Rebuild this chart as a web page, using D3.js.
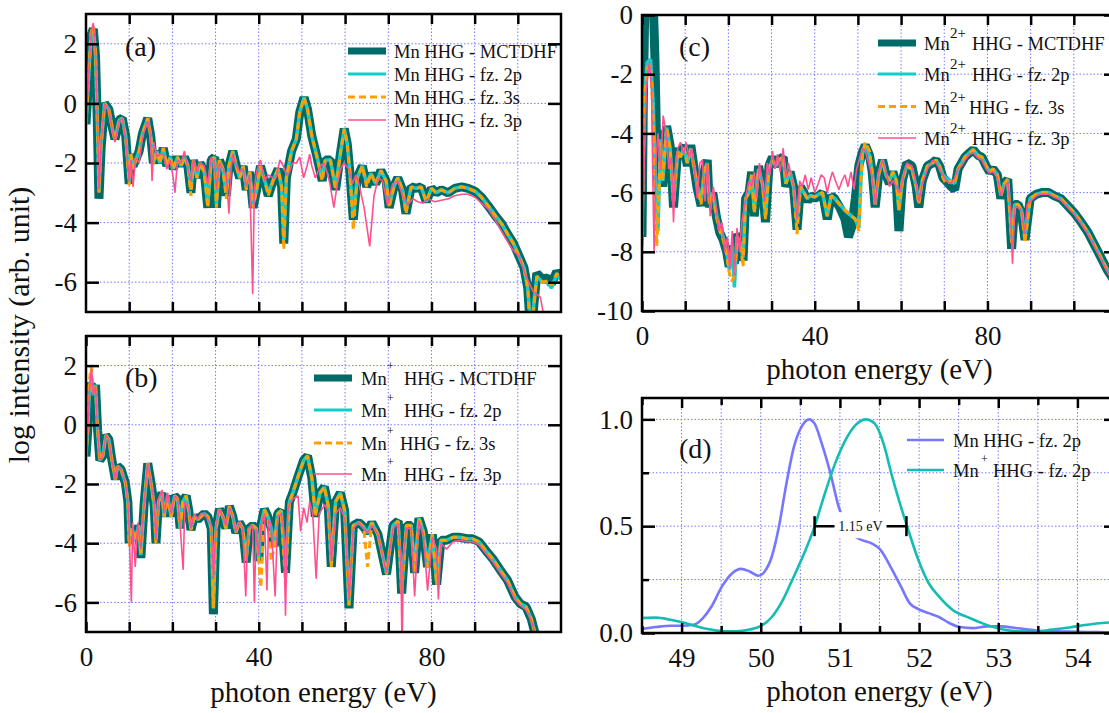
<!DOCTYPE html>
<html>
<head>
<meta charset="utf-8">
<script src="https://cdn.jsdelivr.net/npm/d3@7"></script>
<style>
  body { margin: 0; background: #fff; }
  svg { display: block; }
</style>
</head>
<body>
<div id="chart"></div>
<script>
// ---------- panel (a): Mn ----------
const energyA = [
  0, 0.6, 1.2, 1.7, 2.2, 2.6, 3.0, 3.5, 4.3, 5.3,
  6.1, 6.7, 7.7, 8.4, 9.2, 10.0, 10.4, 10.9, 11.5, 12.3,
  13.1, 14.3, 15.0, 15.6, 16.4, 17.1, 17.9, 18.7, 19.5, 20.2,
  21.2, 22.0, 22.8, 23.6, 24.3, 24.9, 25.7, 26.4, 27.4, 28.2,
  29.0, 29.8, 30.2, 30.9, 31.7, 32.5, 33.1, 34.0, 34.8, 35.6,
  36.4, 37.1, 37.9, 38.7, 39.5, 40.4, 41.4, 42.2, 43.3, 44.5,
  45.3, 45.8, 46.4, 47.6, 48.7, 49.5, 50.5, 51.3, 52.3, 53.5,
  54.7, 55.4, 56.6, 57.8, 59.0, 59.8, 60.5, 61.1, 61.9, 62.8,
  64.0, 65.0, 66.0, 67.1, 68.3, 69.5, 70.2, 71.4, 72.2, 73.3,
  74.1, 75.3, 76.5, 77.6, 78.8, 80.0, 81.1, 82.3, 83.9, 85.4,
  87.0, 88.5, 90.1, 91.6, 93.2, 94.7, 96.3, 97.9, 99.0, 100.2,
  101.4, 102.3, 102.8, 103.5, 104.4, 105.7, 106.9, 107.8, 109.0, 110.0
];
const mctdhfA = [
  -0.7, 0.8, 2.3, 2.5, 1.6, -0.5, -3.2, -1.5, 0.0, -0.2,
  -0.8, -1.2, -0.55, -0.5, -1.1, -2.7, -1.7, -2.1, -1.9, -1.6,
  -1.0, -0.5, -1.1, -2.0, -1.6, -2.0, -1.5, -2.1, -1.8, -2.2,
  -1.8, -2.1, -1.8, -2.1, -3.0, -1.9, -2.5, -2.0, -2.3, -3.5,
  -1.9, -1.8, -3.5, -1.9, -2.2, -3.1, -2.1, -1.6, -2.1, -2.5,
  -2.1, -2.9, -2.3, -3.5, -2.9, -2.1, -2.6, -3.1, -2.6, -2.2,
  -2.8, -4.7, -2.5, -1.6, -1.2, -0.3, 0.2, -0.2, -1.1, -1.8,
  -2.6, -1.9, -1.9, -2.9, -1.6, -0.85, -1.35, -2.3, -3.9, -2.5,
  -2.1, -2.8, -2.35, -2.7, -2.25, -2.6, -3.5, -2.75, -2.5, -2.9,
  -3.7, -2.8, -2.85, -2.8, -3.3, -2.85, -3.0, -2.9, -3.0, -2.85,
  -2.8, -2.85, -2.95, -3.15, -3.45, -3.75, -4.05, -4.45, -4.7, -5.1,
  -5.5, -6.2, -7.3, -7.1, -5.7, -5.9, -5.85, -6.05, -5.65, -5.8
];
const fz2pA = [
  -0.7, 0.9, 2.35, 2.55, 1.65, -0.4, -2.95, -1.4, 0.0, -0.2,
  -0.85, -1.2, -0.55, -0.5, -1.1, -2.6, -1.7, -2.2, -1.9, -1.6,
  -1.0, -0.5, -1.1, -2.0, -1.6, -2.0, -1.5, -2.1, -1.8, -2.2,
  -1.8, -2.1, -1.8, -2.1, -2.9, -1.9, -2.5, -2.0, -2.3, -3.4,
  -1.9, -1.8, -3.4, -1.9, -2.2, -3.0, -2.1, -1.6, -2.1, -2.5,
  -2.1, -2.8, -2.3, -3.4, -2.9, -2.1, -2.6, -3.0, -2.6, -2.2,
  -2.8, -4.6, -2.5, -1.6, -1.2, -0.3, 0.2, -0.2, -1.1, -1.8,
  -2.5, -1.9, -1.9, -2.8, -1.6, -0.85, -1.35, -2.3, -3.8, -2.5,
  -2.1, -2.7, -2.35, -2.7, -2.25, -2.6, -3.4, -2.75, -2.5, -2.9,
  -3.6, -2.8, -2.85, -2.8, -3.3, -2.85, -3.0, -2.9, -3.0, -2.85,
  -2.8, -2.85, -2.95, -3.15, -3.45, -3.75, -4.05, -4.45, -4.7, -5.1,
  -5.5, -6.2, -7.2, -7.0, -5.8, -6.0, -6.0, -6.2, -5.75, -5.9
];
const fz3sA = [
  -0.7, 0.9, 2.4, 2.6, 1.7, -0.4, -3.0, -1.4, 0.0, -0.2,
  -0.85, -1.25, -0.55, -0.5, -1.15, -2.75, -1.7, -2.2, -1.9, -1.6,
  -1.0, -0.5, -1.1, -2.05, -1.6, -2.0, -1.5, -2.1, -1.8, -2.2,
  -1.8, -2.1, -1.8, -2.1, -3.1, -1.9, -2.5, -2.0, -2.3, -3.5,
  -1.9, -1.8, -3.5, -1.9, -2.2, -3.2, -2.1, -1.6, -2.1, -2.5,
  -2.1, -2.9, -2.3, -3.5, -2.9, -2.1, -2.6, -3.1, -2.6, -2.2,
  -2.8, -4.9, -2.5, -1.6, -1.2, -0.3, 0.2, -0.2, -1.1, -1.8,
  -2.6, -1.9, -1.9, -2.9, -1.6, -0.85, -1.35, -2.3, -4.25, -2.5,
  -2.1, -2.8, -2.35, -2.7, -2.25, -2.6, -3.5, -2.75, -2.5, -2.9,
  -3.7, -2.8, -2.85, -2.8, -3.3, -2.85, -3.0, -2.9, -3.0, -2.85,
  -2.8, -2.85, -2.95, -3.15, -3.45, -3.75, -4.05, -4.45, -4.7, -5.1,
  -5.5, -6.2, -7.4, -7.2, -5.8, -6.0, -5.95, -6.1, -5.7, -5.85
];
const fz3pA = [
  [0, -0.7], [0.6, 0.9], [1.2, 2.4], [1.7, 2.7], [2.2, 1.7], [2.6, -0.3], [3.0, -2.9], [3.5, -1.3],
  [4.3, 0.0], [5.3, -0.2], [6.1, -0.9], [6.7, -1.3], [7.7, -0.6], [8.4, -0.5], [9.2, -1.2],
  [10.0, -2.6], [10.4, -1.9], [10.9, -2.8], [11.5, -1.8], [12.3, -2.0], [13.1, -1.1], [14.3, -0.6],
  [14.9, -1.0], [15.3, -2.6], [15.7, -1.3], [16.4, -1.8], [17.1, -1.7], [17.9, -1.7], [18.7, -2.2],
  [19.5, -1.9], [20.2, -2.5], [20.6, -3.0], [21.2, -1.9], [22.0, -2.0], [22.8, -1.6], [23.6, -2.2],
  [24.3, -2.6], [24.9, -1.9], [25.7, -2.3], [26.4, -2.0], [27.4, -2.1], [28.2, -2.7], [29.0, -1.8],
  [29.8, -2.0], [30.2, -2.9], [30.9, -2.0], [31.7, -2.2], [32.5, -2.4], [33.1, -3.7], [33.6, -2.2],
  [34.0, -1.7], [34.8, -2.1], [35.6, -2.3], [36.4, -2.2], [37.1, -2.8], [37.9, -2.4], [38.6, -6.4],
  [39.0, -2.8], [39.5, -2.3], [40.4, -1.9], [41.4, -2.6], [42.2, -2.4], [43.3, -2.5], [44.0, -2.5],
  [44.9, -1.9], [45.7, -2.1], [46.4, -2.4], [47.0, -2.35], [47.8, -2.0], [48.7, -2.0], [49.5, -1.8],
  [50.4, -2.5], [51.2, -2.1], [51.8, -1.7], [52.3, -2.1], [53.1, -2.5], [54.3, -2.1], [55.1, -2.0],
  [55.8, -2.3], [56.5, -2.7], [57.4, -3.5], [58.2, -2.7], [59.0, -2.2], [59.7, -2.0], [60.9, -2.2],
  [61.7, -2.7], [62.5, -2.4], [63.2, -2.7], [64.4, -3.5], [65.7, -4.8], [66.7, -3.1], [67.7, -2.5],
  [68.7, -2.6], [69.8, -3.4], [71.0, -2.7], [72.2, -2.6], [73.3, -3.1], [74.5, -3.4], [75.7, -3.2],
  [76.8, -3.3], [78.0, -3.35], [79.2, -3.2], [80.7, -3.3], [82.3, -3.25], [83.9, -3.2], [85.4, -3.1],
  [87.0, -3.05], [88.5, -3.05], [90.1, -3.15], [91.6, -3.35], [93.2, -3.55], [94.7, -3.9],
  [96.3, -4.3], [97.9, -4.7], [99.0, -4.95], [100.2, -5.1], [101.9, -5.8], [103.5, -6.3],
  [105.2, -6.5], [106.0, -7.1]
];

// ---------- panel (b): Mn+ ----------
const energyB = [
  0, 0.4, 0.8, 1.2, 1.7, 2.2, 2.7, 3.2, 3.9, 4.6,
  5.3, 6.0, 6.8, 7.3, 8.1, 9.1, 9.7, 10.0, 10.7, 11.4,
  12.2, 12.7, 13.5, 14.3, 15.1, 15.8, 16.2, 16.8, 17.6, 18.1,
  18.9, 19.7, 20.5, 21.2, 21.8, 22.4, 23.2, 23.8, 24.3, 25.1,
  25.9, 26.6, 27.4, 28.2, 29.0, 29.5, 30.1, 30.9, 31.7, 32.4,
  33.2, 34.0, 34.7, 35.5, 36.3, 37.1, 37.8, 38.6, 39.4, 40.0,
  40.5, 41.3, 42.1, 42.9, 43.6, 44.4, 45.2, 46.2, 47.1, 47.9,
  49.1, 50.4, 51.3, 52.3, 53.1, 54.2, 55.2, 56.1, 56.8, 57.8,
  58.9, 59.9, 60.9, 61.9, 63.2, 64.3, 65.2, 66.2, 67.6, 69.6,
  71.1, 72.3, 73.1, 74.2, 75.3, 76.1, 77.1, 78.1, 79.1, 80.2,
  81.2, 82.2, 83.5, 85.0, 86.6, 88.2, 89.5, 91.0, 92.6, 94.3,
  95.9, 97.6, 99.3, 100.6, 101.9, 103.1, 103.9, 104.5
];
const mctdhfB = [
  -1.07, -0.2, 1.2, 1.4, 0.95, 1.35, -0.2, -1.2, -1.05, -0.35,
  -0.5, -1.2, -1.85, -1.4, -1.5, -1.95, -2.6, -4.0, -3.5, -3.9,
  -3.4, -4.5, -2.6, -1.3, -2.0, -2.75, -4.0, -2.6, -2.3, -3.1,
  -2.4, -3.1, -2.4, -2.5, -3.5, -2.6, -2.4, -2.9, -3.55, -3.1,
  -3.2, -3.1, -3.0, -3.1, -3.5, -6.4, -3.5, -2.85, -3.1, -3.5,
  -2.75, -3.1, -3.65, -3.3, -3.5, -4.65, -3.5, -3.4, -3.5, -4.6,
  -3.4, -2.85, -3.1, -3.5, -4.1, -3.0, -2.9, -5.0, -2.6, -2.3,
  -1.75, -1.2, -1.05, -1.8, -3.1, -2.3, -2.1, -2.75, -4.8, -2.6,
  -2.3, -2.9, -6.2, -3.4, -3.3, -3.45, -3.65, -3.3, -3.7, -5.05,
  -3.4, -3.25, -5.7, -3.4, -3.4, -5.0, -3.15, -3.6, -4.8, -3.7,
  -5.4, -3.9, -3.9, -3.8, -3.8, -3.85, -3.85, -3.95, -4.25, -4.55,
  -4.9, -5.25, -5.8, -6.05, -6.15, -6.55, -7.0, -7.3
];
const fz2pB = [
  -1.07, -0.2, 1.3, 1.5, 1.0, 1.35, -0.2, -1.2, -1.05, -0.35,
  -0.5, -1.2, -1.85, -1.4, -1.5, -1.95, -2.6, -3.9, -3.5, -3.9,
  -3.4, -4.4, -2.6, -1.3, -2.0, -2.75, -3.9, -2.6, -2.3, -3.1,
  -2.4, -3.1, -2.4, -2.5, -3.5, -2.6, -2.4, -2.9, -3.5, -3.1,
  -3.2, -3.1, -3.0, -3.1, -3.5, -6.2, -3.5, -2.85, -3.1, -3.5,
  -2.75, -3.1, -3.6, -3.3, -3.5, -4.5, -3.5, -3.4, -3.5, -4.5,
  -3.4, -2.85, -3.1, -3.5, -4.0, -3.0, -2.9, -4.9, -2.6, -2.3,
  -1.75, -1.2, -1.05, -1.8, -3.0, -2.3, -2.1, -2.75, -4.7, -2.6,
  -2.3, -2.9, -6.1, -3.4, -3.3, -3.45, -3.65, -3.3, -3.7, -5.0,
  -3.4, -3.25, -5.6, -3.4, -3.4, -4.9, -3.15, -3.6, -4.7, -3.7,
  -5.3, -3.9, -3.9, -3.8, -3.8, -3.85, -3.85, -3.95, -4.25, -4.55,
  -4.9, -5.25, -5.8, -6.05, -6.15, -6.55, -7.0, -7.3
];
const fz3sB = [
  -1.07, -0.2, 1.5, 1.95, 1.1, 1.3, -0.2, -1.2, -1.05, -0.35,
  -0.5, -1.2, -1.85, -1.4, -1.5, -1.95, -2.6, -4.1, -3.5, -3.9,
  -3.4, -4.4, -2.6, -1.3, -2.0, -2.75, -4.0, -2.6, -2.3, -3.1,
  -2.4, -3.1, -2.4, -2.5, -3.5, -2.6, -2.4, -2.9, -3.55, -3.1,
  -3.2, -3.1, -3.0, -3.1, -3.5, -6.2, -3.5, -2.85, -3.1, -3.5,
  -2.75, -3.1, -3.65, -3.3, -3.5, -4.6, -3.5, -3.4, -3.5, -4.6,
  -5.5, -2.85, -3.1, -4.6, -4.1, -3.0, -2.9, -5.4, -2.6, -2.3,
  -1.75, -1.2, -1.05, -1.8, -3.1, -2.3, -2.1, -2.75, -4.8, -2.6,
  -2.3, -2.9, -6.1, -3.4, -3.3, -3.45, -4.8, -3.3, -3.7, -5.05,
  -3.4, -3.25, -5.7, -3.4, -3.4, -5.0, -3.15, -3.6, -4.8, -3.7,
  -5.4, -3.9, -3.9, -3.8, -3.8, -3.85, -3.85, -3.95, -4.25, -4.55,
  -4.9, -5.25, -5.8, -6.05, -6.15, -6.55, -7.0, -7.3
];
const fz3pB = [
  [0, -1.07], [0.4, -0.2], [0.9, 1.4], [1.3, 1.9], [1.7, 1.0], [2.2, 1.3], [2.7, -0.2], [3.2, -1.2],
  [3.9, -1.05], [4.6, -0.35], [5.3, -0.5], [6.0, -1.2], [6.8, -1.85], [7.3, -1.4], [8.1, -1.5],
  [9.1, -1.95], [9.7, -2.6], [10.0, -3.6], [10.5, -6.0], [10.8, -3.3], [11.4, -4.8], [12.0, -3.3],
  [12.7, -4.2], [13.5, -2.6], [14.3, -1.3], [15.1, -2.0], [15.8, -2.6], [16.2, -3.9], [16.8, -2.5],
  [17.6, -2.2], [18.1, -3.0], [18.9, -2.3], [19.7, -3.0], [20.5, -2.4], [21.2, -2.5], [21.8, -3.4],
  [22.5, -4.9], [22.9, -2.6], [23.8, -2.8], [24.3, -3.5], [25.1, -3.0], [25.9, -3.2], [26.6, -3.0],
  [27.4, -3.0], [28.2, -3.2], [29.0, -3.4], [29.5, -5.2], [30.1, -3.4], [30.9, -2.85], [31.7, -3.1],
  [32.4, -3.4], [33.2, -2.8], [34.0, -3.1], [34.7, -3.6], [35.5, -3.3], [36.3, -3.5], [37.0, -5.8],
  [37.5, -3.5], [38.6, -3.4], [39.0, -6.0], [39.4, -3.5], [40.0, -4.4], [40.5, -3.4], [41.3, -3.0],
  [41.9, -5.6], [42.3, -3.2], [42.9, -3.4], [43.8, -5.8], [44.4, -3.1], [45.2, -3.0], [45.8, -3.6],
  [46.2, -6.45], [46.7, -3.0], [47.1, -2.7], [47.9, -2.5], [49.1, -2.4], [49.7, -3.6], [50.4, -2.8],
  [51.2, -3.3], [51.8, -2.6], [52.5, -3.0], [53.3, -5.2], [54.0, -3.0], [55.3, -2.7], [56.3, -3.0],
  [56.8, -4.6], [57.8, -3.0], [58.9, -2.8], [60.0, -3.2], [60.9, -5.9], [61.9, -3.5], [63.2, -3.3],
  [64.3, -3.5], [65.2, -3.65], [66.2, -3.4], [67.6, -3.7], [69.6, -5.0], [71.1, -3.5], [72.3, -3.35],
  [72.9, -4.5], [73.2, -7.7], [73.5, -4.5], [74.2, -3.5], [75.3, -3.5], [76.1, -5.8], [77.1, -3.25],
  [78.1, -3.7], [79.1, -5.6], [80.2, -3.8], [81.2, -4.2], [81.6, -5.9], [82.2, -4.0], [83.5, -4.2],
  [85.0, -3.95], [86.6, -3.9], [88.2, -3.95], [89.5, -3.95], [91.0, -4.05], [92.6, -4.35],
  [94.3, -4.65], [95.9, -5.0], [97.6, -5.35], [99.3, -5.9], [100.6, -6.1], [101.9, -6.25],
  [103.1, -6.6], [103.9, -7.0], [104.5, -7.3]
];

// ---------- panel (c): Mn2+ ----------
const energyC = [
  0, 0.3, 0.7, 1.2, 2.0, 2.6, 3.0, 3.4, 3.7, 4.3,
  4.8, 5.7, 6.5, 7.3, 8.3, 8.9, 9.7, 10.5, 11.3, 11.9,
  12.7, 13.7, 14.4, 15.1, 15.6, 16.4, 17.2, 18.0, 18.8, 19.6,
  20.2, 20.8, 21.4, 22.0, 22.8, 23.4, 24.0, 24.8, 25.4, 26.0,
  27.0, 27.9, 28.6, 29.4, 30.2, 31.0, 31.7, 32.7, 33.3, 34.3,
  35.1, 35.9, 36.7, 37.5, 38.3, 39.0, 40.0, 41.0, 41.8, 42.9,
  43.8, 44.6, 45.8, 47.0, 47.8, 48.6, 49.4, 50.2, 51.0, 51.7,
  52.7, 53.3, 54.0, 54.8, 55.7, 56.5, 57.3, 58.1, 58.9, 59.5,
  60.3, 61.3, 62.5, 63.5, 64.1, 64.9, 66.1, 67.3, 68.1, 68.9,
  69.7, 70.4, 71.6, 72.4, 73.2, 74.0, 74.8, 75.9, 76.7, 77.9,
  78.7, 79.7, 80.5, 81.3, 82.3, 83.1, 83.9, 84.7, 85.6, 86.3,
  87.1, 87.9, 88.7, 89.9, 91.4, 92.6, 94.2, 95.4, 97.0, 98.6,
  100.2, 101.7, 103.3, 104.9, 106.5, 107.7, 109.0, 110.0
];
const mctdhfC = [
  -7.5, -3.0, 0.8, 1.5, 1.2, 0.5, -1.5, -4.5, -5.8, -3.9,
  -5.8, -3.75, -4.4, -6.5, -4.5, -4.7, -4.4, -5.1, -4.4, -5.0,
  -5.8, -6.45, -5.3, -4.9, -6.5, -6.0, -6.8, -7.35, -7.6, -8.0,
  -8.5, -7.8, -8.4, -7.4, -7.6, -8.3, -6.2, -6.0, -5.3, -6.8,
  -5.1, -5.8, -7.0, -5.1, -4.8, -5.1, -4.9, -4.8, -5.8, -5.3,
  -5.8, -7.25, -5.8, -6.0, -6.3, -6.1, -6.2, -6.1, -6.0, -6.9,
  -6.1, -6.2, -6.5, -6.9, -7.5, -7.15, -6.2, -5.1, -4.65, -4.4,
  -4.75, -5.3, -6.5, -5.4, -4.9, -5.4, -5.7, -5.3, -5.7, -7.3,
  -5.6, -5.0, -5.1, -5.8, -6.5, -5.6, -5.1, -5.0, -4.9, -5.1,
  -5.5, -5.6, -5.8, -5.9, -5.2, -5.0, -4.8, -4.65, -4.55, -4.75,
  -4.8, -5.1, -5.3, -5.2, -5.4, -6.2, -5.7, -5.55, -7.9, -6.4,
  -6.4, -6.7, -7.6, -6.2, -6.05, -6.0, -6.0, -6.1, -6.2, -6.45,
  -6.7, -7.0, -7.35, -7.8, -8.25, -8.6, -8.9, -9.1
];
const fz2pC = [
  -7.6, -4.5, -2.5, -1.6, -1.5, -3.0, -5.0, -6.6, -7.3, -4.2,
  -5.6, -3.8, -4.5, -6.3, -4.6, -4.8, -4.5, -5.0, -4.5, -5.0,
  -5.7, -6.3, -5.3, -5.0, -6.3, -6.0, -6.7, -7.2, -7.5, -8.0,
  -8.6, -7.8, -9.2, -7.5, -7.7, -8.2, -6.2, -6.0, -5.4, -6.6,
  -5.2, -5.7, -6.8, -5.2, -4.9, -5.1, -4.9, -4.8, -5.7, -5.3,
  -5.8, -7.0, -5.8, -6.0, -6.2, -6.1, -6.15, -6.05, -6.0, -6.8,
  -6.1, -6.2, -6.4, -6.6, -6.7, -6.8, -6.9, -7.2, -4.7, -4.4,
  -4.75, -5.3, -6.4, -5.4, -4.9, -5.4, -5.6, -5.3, -5.6, -6.6,
  -5.6, -5.1, -5.2, -5.8, -6.3, -5.6, -5.1, -5.0, -4.9, -5.1,
  -5.4, -5.5, -5.6, -5.7, -5.2, -5.0, -4.8, -4.65, -4.55, -4.75,
  -4.8, -5.1, -5.3, -5.2, -5.4, -6.1, -5.7, -5.55, -7.6, -6.4,
  -6.4, -6.6, -7.5, -6.2, -6.05, -6.0, -6.0, -6.1, -6.2, -6.45,
  -6.7, -7.0, -7.35, -7.8, -8.25, -8.6, -8.9, -9.1
];
const fz3sC = [
  -7.8, -4.8, -2.7, -1.8, -1.7, -3.5, -6.0, -7.8, -7.0, -4.3,
  -5.6, -3.8, -4.5, -6.4, -4.6, -4.8, -4.5, -5.0, -4.5, -5.0,
  -5.7, -6.4, -5.3, -5.0, -6.4, -6.0, -6.8, -7.3, -7.6, -8.1,
  -8.7, -9.0, -8.8, -7.5, -7.7, -8.5, -6.2, -6.0, -5.4, -6.7,
  -5.2, -5.7, -6.9, -5.2, -4.9, -5.1, -4.9, -4.8, -5.7, -5.3,
  -5.8, -7.4, -5.8, -6.0, -6.2, -6.1, -6.15, -6.05, -6.0, -6.8,
  -6.1, -6.2, -6.4, -6.6, -6.7, -6.8, -6.9, -7.3, -4.7, -4.3,
  -4.6, -5.3, -6.4, -5.4, -4.9, -5.4, -5.6, -5.3, -5.6, -6.6,
  -5.6, -5.1, -5.2, -5.8, -6.4, -5.6, -5.1, -5.0, -4.9, -5.1,
  -5.5, -5.7, -5.6, -5.7, -5.2, -5.0, -4.8, -4.65, -4.55, -4.75,
  -4.8, -5.1, -5.3, -5.2, -5.4, -6.1, -5.7, -5.55, -7.7, -6.4,
  -6.4, -6.6, -7.7, -6.2, -6.05, -6.0, -6.0, -6.1, -6.2, -6.45,
  -6.7, -7.0, -7.35, -7.8, -8.25, -8.6, -8.9, -9.1
];
const fz3pC = [
  [0, -8.5], [0.5, -5.0], [1.0, -2.5], [1.7, -1.6], [2.2, -2.5], [2.5, -5.5], [2.8, -8.0], [3.2, -5.0],
  [3.7, -4.0], [4.3, -5.2], [4.9, -3.4], [5.6, -4.0], [6.2, -5.2], [6.8, -4.8], [7.3, -7.0],
  [7.8, -5.0], [8.3, -4.5], [8.9, -4.3], [9.7, -4.7], [10.2, -4.3], [10.9, -4.8], [11.5, -4.5],
  [12.2, -5.3], [12.8, -6.2], [13.4, -5.0], [14.0, -4.9], [14.6, -6.3], [15.1, -5.0], [15.8, -6.8],
  [16.5, -5.8], [17.2, -6.5], [17.8, -7.3], [18.5, -7.0], [19.2, -8.0], [19.8, -7.5], [20.3, -8.6],
  [20.9, -7.3], [21.4, -8.8], [22.0, -7.2], [22.6, -8.0], [23.1, -7.0], [23.7, -6.5], [24.2, -6.0],
  [24.8, -5.6], [25.4, -5.8], [26.0, -5.3], [26.6, -6.2], [27.2, -5.0], [27.8, -5.6], [28.4, -6.3],
  [29.0, -5.0], [29.6, -5.4], [30.2, -4.6], [30.8, -5.2], [31.4, -4.7], [32.0, -5.3], [32.7, -4.5],
  [33.3, -5.5], [33.9, -5.0], [34.5, -5.4], [35.1, -5.8], [35.9, -6.9], [36.5, -5.6], [37.1, -5.8],
  [37.8, -5.4], [38.5, -5.9], [39.2, -5.5], [40.0, -6.0], [40.8, -5.7], [41.5, -5.4], [42.2, -5.5],
  [42.9, -6.0], [43.5, -5.6], [44.1, -5.3], [44.8, -5.6], [45.6, -5.9], [46.3, -5.6], [47.0, -5.4],
  [47.7, -5.8], [48.4, -5.3], [49.1, -5.9], [49.7, -5.2], [50.3, -4.9], [51.0, -4.5], [51.7, -4.6],
  [52.5, -5.0], [53.3, -5.5], [54.0, -6.4], [54.8, -5.3], [55.7, -4.9], [56.5, -5.3], [57.3, -5.8],
  [58.1, -5.6], [58.9, -5.8], [59.6, -6.0], [60.3, -5.6], [61.3, -5.0], [62.5, -5.1], [63.5, -5.7],
  [64.1, -6.3], [64.9, -5.7], [66.1, -5.2], [67.3, -4.9], [68.1, -5.0], [68.9, -5.2], [69.7, -5.4],
  [70.4, -5.6], [71.6, -5.7], [72.4, -5.5], [73.2, -5.2], [74.0, -5.1], [74.8, -4.9], [75.9, -4.7],
  [76.7, -4.65], [77.9, -4.85], [78.7, -4.9], [79.7, -5.2], [80.5, -5.35], [81.3, -5.3], [82.3, -5.5],
  [83.1, -6.1], [83.9, -5.8], [84.7, -5.65], [85.3, -6.5], [85.8, -8.4], [86.3, -6.5], [87.1, -6.5],
  [87.9, -6.6], [88.6, -7.4], [89.2, -6.4], [89.9, -6.3], [91.4, -6.1], [92.6, -6.05], [94.2, -6.05],
  [95.4, -6.15], [97.0, -6.25], [98.6, -6.5], [100.2, -6.75], [101.7, -7.05], [103.3, -7.4],
  [104.9, -7.85], [106.5, -8.3], [107.7, -8.65], [109.0, -8.95], [110.0, -9.15]
];

// ---------- panel (d): normalised 2p-frozen spectra near 51 eV ----------
const mnFz2pD = [
  [48.5, 0.019], [48.68, 0.028], [48.86, 0.034], [49.0, 0.034], [49.16, 0.04], [49.27, 0.07],
  [49.38, 0.125], [49.51, 0.218], [49.64, 0.28], [49.75, 0.3], [49.86, 0.288], [49.97, 0.268],
  [50.05, 0.288], [50.14, 0.358], [50.23, 0.498], [50.31, 0.67], [50.42, 0.872], [50.53, 0.974],
  [50.61, 1.0], [50.68, 0.98], [50.77, 0.888], [50.88, 0.748], [50.99, 0.584], [51.06, 0.52],
  [51.14, 0.467], [51.27, 0.436], [51.4, 0.42], [51.51, 0.39], [51.64, 0.31], [51.77, 0.218],
  [51.88, 0.14], [51.99, 0.112], [52.12, 0.093], [52.25, 0.075], [52.38, 0.047], [52.51, 0.028],
  [52.68, 0.023], [52.86, 0.031], [53.03, 0.031], [53.25, 0.022], [53.47, 0.012], [53.77, 0.008],
  [54.12, 0.005], [54.5, 0.003]
];
const mnPlusFz2pD = [
  [48.5, 0.07], [48.68, 0.072], [48.86, 0.062], [49.0, 0.051], [49.16, 0.034], [49.33, 0.019],
  [49.51, 0.009], [49.68, 0.008], [49.86, 0.016], [50.01, 0.034], [50.14, 0.075], [50.27, 0.148],
  [50.4, 0.25], [50.55, 0.374], [50.68, 0.498], [50.81, 0.654], [50.94, 0.794], [51.07, 0.903],
  [51.2, 0.974], [51.33, 1.0], [51.44, 0.98], [51.55, 0.888], [51.66, 0.732], [51.77, 0.592],
  [51.85, 0.498], [51.99, 0.343], [52.12, 0.234], [52.25, 0.171], [52.42, 0.109], [52.64, 0.07],
  [52.81, 0.044], [53.03, 0.019], [53.25, 0.008], [53.47, 0.006], [53.68, 0.016], [53.9, 0.026],
  [54.12, 0.039], [54.5, 0.052]
];
const fwhmD = [50.68, 51.84];
const fwhmLabel = "1.15 eV";

// ---------- ticks and labels ----------
const xTicksEnergy = [10, 20, 30, 40, 50, 60, 70, 80, 90, 100];
const xLabelsEnergy = [0, 40, 80];
const yTicksAB = [2, 0, -2, -4, -6];
const yTicksC = [0, -2, -4, -6, -8, -10];
const xTicksD = [49, 50, 51, 52, 53, 54];
const xHalfTicksD = [48.5, 49.5, 50.5, 51.5, 52.5, 53.5, 54.5];
const yTicksD = [0, 0.5, 1.0];
const yMinorTicksD = [0.25, 0.75];
const legendSuffixes = ["HHG - MCTDHF", "HHG - fz. 2p", "HHG - fz. 3s", "HHG - fz. 3p"];

const FONT = "'Liberation Serif', 'Times New Roman', serif";
const gridColor = "#7878ff";
const styles = {
  mct:  { stroke: "#006b66", width: 9, dash: null },
  fz2p: { stroke: "#14cdc8", width: 3.5, dash: null },
  fz3s: { stroke: "#ffa000", width: 3, dash: "7,4" },
  fz3p: { stroke: "#ff4f8e", width: 1.6, dash: null },
  mnD:  { stroke: "#7676ff", width: 2.6, dash: null },
  mnPD: { stroke: "#14bdb3", width: 2.6, dash: null }
};

const svg = d3.select("#chart").append("svg")
  .attr("width", 1109)
  .attr("height", 713)
  .style("font-family", FONT);

function makePanel(id, box, xDomain, yDomain, xGrid, yGrid) {
  const x = d3.scaleLinear().domain(xDomain).range([box.left, box.right]);
  const y = d3.scaleLinear().domain(yDomain).range([box.bottom, box.top]);

  svg.append("clipPath").attr("id", "clip-" + id)
    .append("rect")
    .attr("x", box.left).attr("y", box.top)
    .attr("width", box.right - box.left).attr("height", box.bottom - box.top);

  const g = svg.append("g");
  g.append("g").selectAll("line").data(xGrid).join("line")
    .attr("x1", d => x(d)).attr("x2", d => x(d))
    .attr("y1", box.top).attr("y2", box.bottom)
    .attr("stroke", gridColor).attr("stroke-width", 1).attr("stroke-dasharray", "1.5,2");
  g.append("g").selectAll("line").data(yGrid).join("line")
    .attr("x1", box.left).attr("x2", box.right)
    .attr("y1", d => y(d)).attr("y2", d => y(d))
    .attr("stroke", gridColor).attr("stroke-width", 1).attr("stroke-dasharray", "1.5,2");

  const plot = g.append("g").attr("clip-path", `url(#clip-${id})`);
  return { x, y, g, plot, box };
}

function drawSeries(p, points, st, curve) {
  const line = d3.line().x(d => p.x(d[0])).y(d => p.y(d[1])).curve(curve || d3.curveLinear);
  p.plot.append("path")
    .datum(points)
    .attr("d", line)
    .attr("fill", "none")
    .attr("stroke", st.stroke)
    .attr("stroke-width", st.width)
    .attr("stroke-dasharray", st.dash)
    .attr("stroke-linejoin", "bevel");
}

function pairs(energy, values) {
  return energy.map((e, i) => [e, values[i]]);
}

function styleAxis(sel, size) {
  sel.select(".domain").remove();
  sel.selectAll(".tick line").attr("stroke", "#000").attr("stroke-width", 2.5);
  sel.attr("font-family", FONT).attr("font-size", size);
  sel.selectAll(".tick text").attr("fill", "#111");
}

function drawFrame(p, opt) {
  const { x, y, g, box } = p;
  const ax = g.append("g");
  // bottom and top x ticks
  styleAxis(ax.append("g").attr("transform", `translate(0,${box.bottom})`)
    .call(d3.axisBottom(x).tickValues(opt.xTicks).tickSize(-opt.xTickLen)
      .tickPadding(15)
      .tickFormat(d => opt.xLabels.includes(d) ? String(d) : "")), 27);
  styleAxis(ax.append("g").attr("transform", `translate(0,${box.top})`)
    .call(d3.axisTop(x).tickValues(opt.xTicks).tickSize(-opt.xTickLen).tickFormat("")), 27);
  if (opt.xMinor) {
    styleAxis(ax.append("g").attr("transform", `translate(0,${box.bottom})`)
      .call(d3.axisBottom(x).tickValues(opt.xMinor).tickSize(-7).tickFormat("")), 27);
    styleAxis(ax.append("g").attr("transform", `translate(0,${box.top})`)
      .call(d3.axisTop(x).tickValues(opt.xMinor).tickSize(-7).tickFormat("")), 27);
  }
  // left and right y ticks
  styleAxis(ax.append("g").attr("transform", `translate(${box.left},0)`)
    .call(d3.axisLeft(y).tickValues(opt.yTicks).tickSize(-13).tickPadding(9)
      .tickFormat(opt.yFormat)), 27);
  styleAxis(ax.append("g").attr("transform", `translate(${box.right},0)`)
    .call(d3.axisRight(y).tickValues(opt.yTicks).tickSize(-13).tickFormat("")), 27);
  if (opt.yMinor) {
    styleAxis(ax.append("g").attr("transform", `translate(${box.left},0)`)
      .call(d3.axisLeft(y).tickValues(opt.yMinor).tickSize(-7).tickFormat("")), 27);
    styleAxis(ax.append("g").attr("transform", `translate(${box.right},0)`)
      .call(d3.axisRight(y).tickValues(opt.yMinor).tickSize(-7).tickFormat("")), 27);
  }
  g.append("rect")
    .attr("x", box.left).attr("y", box.top)
    .attr("width", box.right - box.left).attr("height", box.bottom - box.top)
    .attr("fill", "none").attr("stroke", "#000").attr("stroke-width", 2.5);

  g.append("text")
    .attr("x", opt.tag[1]).attr("y", opt.tag[2])
    .attr("font-size", 28).attr("fill", "#111")
    .text(opt.tag[0]);
  if (opt.xTitle) {
    g.append("text")
      .attr("x", (box.left + box.right) / 2).attr("y", opt.xTitle)
      .attr("text-anchor", "middle").attr("font-size", 29).attr("fill", "#111")
      .text("photon energy (eV)");
  }
}

// legend rows: style, optional superscript, suffix text and its x
function drawLegend(g, rows, lx0, lx1, tx, rowY, sup) {
  rows.forEach((r, i) => {
    const cy = rowY[i];
    g.append("line")
      .attr("x1", lx0).attr("x2", lx1).attr("y1", cy).attr("y2", cy)
      .attr("stroke", r.style.stroke)
      .attr("stroke-width", r.style === styles.mct ? 7 : Math.min(r.style.width, 3))
      .attr("stroke-dasharray", r.style.dash);
    const t = g.append("text").attr("y", cy + 7).attr("font-size", 18.5).attr("fill", "#111");
    if (r.sup) {
      t.append("tspan").attr("x", tx).text("Mn");
      g.append("text").attr("x", sup.x).attr("y", cy + 7 - sup.rise)
        .attr("font-size", sup.size).attr("fill", "#111").text(r.sup);
      t.append("tspan").attr("x", r.restX).text(r.text);
    } else {
      t.append("tspan").attr("x", tx).text("Mn " + r.text);
    }
  });
}

const fmtInt = d => String(d);

// ---- (a)
const pa = makePanel("a", { left: 86, right: 561, top: 14, bottom: 312 }, [0, 110], [-7, 3],
  xTicksEnergy, yTicksAB);
drawSeries(pa, pairs(energyA, mctdhfA), styles.mct);
drawSeries(pa, pairs(energyA, fz2pA), styles.fz2p);
drawSeries(pa, pairs(energyA, fz3sA), styles.fz3s);
drawSeries(pa, fz3pA, styles.fz3p);
drawFrame(pa, { xTicks: xTicksEnergy, xTickLen: 10, xLabels: [], yTicks: yTicksAB,
  yFormat: fmtInt, tag: ["(a)", 125, 56] });
drawLegend(pa.g, [
  { style: styles.mct, text: legendSuffixes[0] },
  { style: styles.fz2p, text: legendSuffixes[1] },
  { style: styles.fz3s, text: legendSuffixes[2] },
  { style: styles.fz3p, text: legendSuffixes[3] }
], 348, 386, 394, [51, 74, 97, 120]);

// ---- (b)
const pb = makePanel("b", { left: 86, right: 561, top: 336, bottom: 632 }, [0, 110], [-7, 3],
  xTicksEnergy, yTicksAB);
drawSeries(pb, pairs(energyB, mctdhfB), styles.mct);
drawSeries(pb, pairs(energyB, fz2pB), styles.fz2p);
drawSeries(pb, pairs(energyB, fz3sB), styles.fz3s);
drawSeries(pb, fz3pB, styles.fz3p);
drawFrame(pb, { xTicks: [0].concat(xTicksEnergy), xTickLen: 10, xLabels: xLabelsEnergy,
  yTicks: yTicksAB, yFormat: fmtInt, tag: ["(b)", 125, 387], xTitle: 702 });
drawLegend(pb.g, [
  { style: styles.mct, sup: "+", text: legendSuffixes[0], restX: 404 },
  { style: styles.fz2p, sup: "+", text: legendSuffixes[1], restX: 404 },
  { style: styles.fz3s, sup: "+", text: legendSuffixes[2], restX: 400 },
  { style: styles.fz3p, sup: "+", text: legendSuffixes[3], restX: 404 }
], 314, 352, 361, [378, 410, 443, 474], { x: 387, rise: 15, size: 12 });

// ---- (c)
const pc = makePanel("c", { left: 642, right: 1117, top: 15, bottom: 311 }, [0, 110], [-10, 0],
  xTicksEnergy, yTicksC.slice(1, 5));
drawSeries(pc, pairs(energyC, mctdhfC), styles.mct);
drawSeries(pc, pairs(energyC, fz2pC), styles.fz2p);
drawSeries(pc, pairs(energyC, fz3sC), styles.fz3s);
drawSeries(pc, fz3pC, styles.fz3p);
drawFrame(pc, { xTicks: [0].concat(xTicksEnergy), xTickLen: 10, xLabels: xLabelsEnergy,
  yTicks: yTicksC, yFormat: fmtInt, tag: ["(c)", 679, 56], xTitle: 379 });
drawLegend(pc.g, [
  { style: styles.mct, sup: "2+", text: legendSuffixes[0], restX: 972 },
  { style: styles.fz2p, sup: "2+", text: legendSuffixes[1], restX: 972 },
  { style: styles.fz3s, sup: "2+", text: legendSuffixes[2], restX: 969 },
  { style: styles.fz3p, sup: "2+", text: legendSuffixes[3], restX: 972 }
], 878, 916, 924, [43, 74, 106.5, 138], { x: 950, rise: 12, size: 15 });

// ---- (d)
const pd = makePanel("d", { left: 642, right: 1117, top: 398, bottom: 633 }, [48.5, 54.5], [0, 1.1],
  [49, 49.5, 50, 50.5, 51, 51.5, 52, 52.5, 53, 53.5, 54], [0.25, 0.5, 0.75, 1.0]);
drawSeries(pd, mnFz2pD, styles.mnD, d3.curveMonotoneX);
drawSeries(pd, mnPlusFz2pD, styles.mnPD, d3.curveMonotoneX);

// FWHM marker
const fy = pd.y(0.5);
pd.g.append("line")
  .attr("x1", pd.x(fwhmD[0])).attr("x2", pd.x(fwhmD[1])).attr("y1", fy).attr("y2", fy)
  .attr("stroke", "#000").attr("stroke-width", 2.5);
pd.g.selectAll(".cap").data(fwhmD).join("line")
  .attr("x1", d => pd.x(d)).attr("x2", d => pd.x(d))
  .attr("y1", fy - 10).attr("y2", fy + 10)
  .attr("stroke", "#000").attr("stroke-width", 2.5);
const fmid = pd.x((fwhmD[0] + fwhmD[1]) / 2);
pd.g.append("rect")
  .attr("x", fmid - 26).attr("y", fy - 14).attr("width", 52).attr("height", 26)
  .attr("fill", "#fff");
pd.g.append("text")
  .attr("x", fmid).attr("y", fy + 5)
  .attr("text-anchor", "middle").attr("font-size", 14).attr("fill", "#111")
  .text(fwhmLabel);

drawFrame(pd, { xTicks: xTicksD, xMinor: xHalfTicksD, xTickLen: 10, xLabels: xTicksD,
  yTicks: yTicksD, yMinor: yMinorTicksD, yFormat: d => d.toFixed(1),
  tag: ["(d)", 679, 458], xTitle: 701 });
drawLegend(pd.g, [
  { style: styles.mnD, text: "HHG - fz. 2p" },
  { style: styles.mnPD, sup: "+", text: "HHG - fz. 2p", restX: 993 }
], 907, 944, 953, [440, 470], { x: 981, rise: 14, size: 12 });

// shared y title
svg.append("text")
  .attr("transform", "translate(29,325) rotate(-90)")
  .attr("text-anchor", "middle")
  .attr("font-size", 30)
  .attr("fill", "#111")
  .text("log intensity (arb. unit)");
</script>
</body>
</html>
